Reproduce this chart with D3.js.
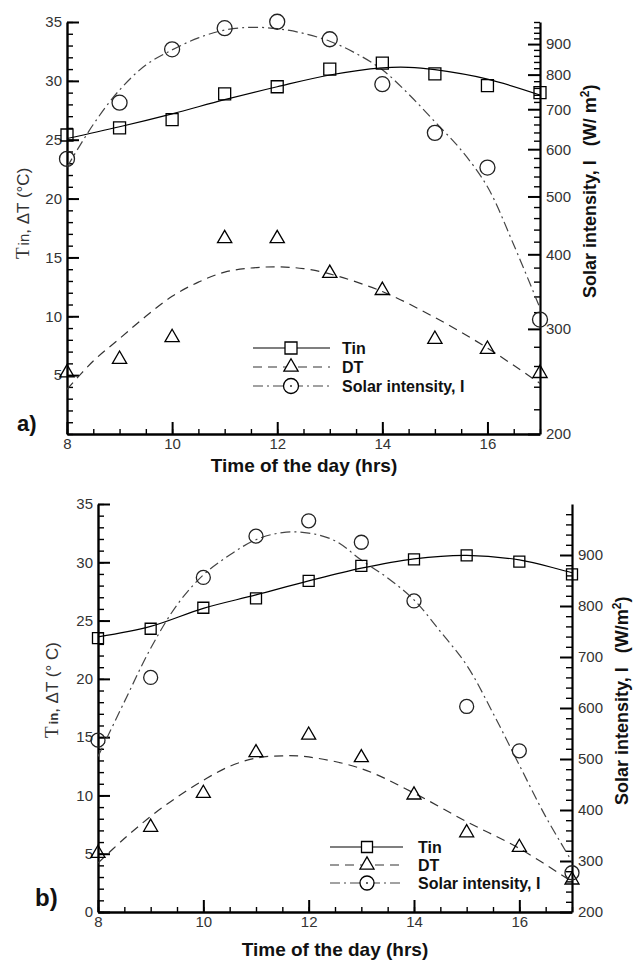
<!DOCTYPE html>
<html><head><meta charset="utf-8">
<script src="https://cdn.jsdelivr.net/npm/d3@7"></script>
<style>body{margin:0;background:#fff}svg{display:block}</style>
</head><body>
<svg id="c" width="634" height="962"></svg>
<script>
// ---------- data ----------
const hours = [8, 9, 10, 11, 12, 13, 14, 15, 16, 17];

// panel a) measured points
const tinA   = [25.4, 26.0, 26.7, 28.9, 29.5, 31.0, 31.5, 30.6, 29.6, 29.0];
const dtA    = [5.2, 6.35, 8.2, 16.6, 16.6, 13.65, 12.2, 8.05, 7.2, 5.15];
const solarA = [578, 718, 882, 957, 981, 917, 771, 639, 559, 311];
// panel a) fitted curves (read off the picture)
const tinFitHoursA = [8, 9, 10, 11, 12, 13, 14, 14.5, 15, 16, 17];
const tinFitA      = [25.1, 26.1, 27.2, 28.4, 29.5, 30.5, 31.1, 31.15, 30.95, 30.15, 28.8];
const dtFitHoursA  = [8, 8.5, 9, 9.5, 10, 10.5, 11, 11.5, 12, 12.5, 13, 14, 15, 16, 17];
const dtFitA       = [3.8, 6.2, 8.1, 10.0, 11.7, 12.9, 13.75, 14.1, 14.2, 14.05, 13.6, 12.1, 9.9, 7.3, 4.3];
const solFitHoursA = [8, 8.5, 9, 9.5, 10, 10.5, 11, 11.5, 12, 12.5, 13, 13.5, 14, 14.5, 15, 15.5, 16, 16.5, 17];
const solFitA      = [560, 660, 754, 830, 880, 922, 950, 960, 955, 938, 910, 868, 815, 742, 667, 598, 519, 415, 325];

// panel b) measured points
const tinB   = [23.5, 24.3, 26.1, 26.9, 28.4, 29.7, 30.25, 30.6, 30.05, 28.97];
const dtB    = [5.03, 7.27, 10.18, 13.67, 15.18, 13.24, 10.04, 6.8, 5.55, 2.75];
const solarB = [537, 660, 856, 937, 967, 925, 810, 603, 516, 277];
// panel b) fitted curves
const tinFitHoursB = [8, 9, 10, 11, 12, 13, 14, 15, 16, 17];
const tinFitB      = [23.6, 24.5, 26.05, 27.2, 28.4, 29.5, 30.3, 30.6, 30.2, 29.1];
const dtFitHoursB  = [8, 8.5, 9, 9.5, 10, 10.5, 11, 11.5, 12, 13, 14, 15, 16, 17];
const dtFitB       = [4.2, 6.3, 8.2, 9.85, 11.3, 12.5, 13.2, 13.4, 13.3, 12.3, 10.2, 7.75, 5.45, 2.6];
const solFitHoursB = [8, 8.5, 9, 9.5, 10, 10.5, 11, 11.5, 12, 12.5, 13, 13.5, 14, 14.5, 15, 15.5, 16, 16.5, 17];
const solFitB      = [505, 612, 717, 802, 861, 900, 930, 944, 943, 928, 890, 855, 812, 750, 684, 590, 488, 387, 299];

// ticks / labels
const xTickLabels   = [8, 10, 12, 14, 16];
const leftLabelsA   = [5, 10, 15, 20, 25, 30, 35];
const leftLabelsB   = [0, 5, 10, 15, 20, 25, 30, 35];
const rightLabels   = [200, 300, 400, 500, 600, 700, 800, 900];
const legendNames   = ["Tin", "DT", "Solar intensity, I"];
const xTitle        = "Time of the day (hrs)";
const rightTitle    = "Solar intensity, I";
const panelNames    = ["a)", "b)"];

// ---------- drawing ----------
const svg = d3.select("#c");
const SANS = "Arial, 'Liberation Sans', sans-serif";
const SERIF = "'Times New Roman', 'Liberation Serif', serif";
const LABEL = "#333";

const dashes = { tin: null, dt: "9,6", sol: "10,4,2,4" };
const lineCol = { tin: "#000", dt: "#333", sol: "#444" };

function range(a, b, s) { const r = []; for (let v = a; v <= b + 1e-9; v += s) r.push(+v.toFixed(3)); return r; }

function panel(cfg) {
  const g = svg.append("g");
  const x = d3.scaleLinear().domain([8, 17]).range([cfg.x0, cfg.x1]);
  const yL = d3.scaleLinear().domain([0, 35]).range([cfg.yb, cfg.yt]);
  const yR = cfg.log
    ? d3.scaleLog().domain([200, 980]).range([cfg.yb, cfg.yt])
    : d3.scaleLinear().domain([200, 1000]).range([cfg.yb, cfg.yt]);

  function styleAxis(sel, major) {
    sel.selectAll(".tick line").attr("stroke", "#000").attr("stroke-width", major ? 2 : 1.4);
    sel.selectAll("text").attr("font-family", SANS).attr("font-size", 15).attr("fill", LABEL);
    sel.attr("font-family", null).attr("font-size", null);
  }

  // left axis: minor then major
  const lMin = g.append("g").attr("transform", `translate(${cfg.x0},0)`)
    .call(d3.axisLeft(yL).tickValues(range(0, 35, 1)).tickSize(-6).tickFormat(""));
  lMin.select(".domain").remove(); styleAxis(lMin, false);
  const lMaj = g.append("g").attr("transform", `translate(${cfg.x0},0)`)
    .call(d3.axisLeft(yL).tickValues(cfg.leftLabels).tickSize(-12).tickSizeOuter(0).tickPadding(5));
  lMaj.select(".domain").attr("stroke", "#000").attr("stroke-width", 2.4);
  styleAxis(lMaj, true);

  // bottom axis
  const bMin = g.append("g").attr("transform", `translate(0,${cfg.yb})`)
    .call(d3.axisBottom(x).tickValues(range(8, 17, 0.5)).tickSize(-5).tickFormat(""));
  bMin.select(".domain").remove(); styleAxis(bMin, false);
  const bMaj = g.append("g").attr("transform", `translate(0,${cfg.yb})`)
    .call(d3.axisBottom(x).tickValues(xTickLabels).tickSize(-12).tickSizeOuter(0).tickPadding(4));
  bMaj.select(".domain").attr("stroke", "#000").attr("stroke-width", 2.4);
  styleAxis(bMaj, true);

  // right axis
  const minorR = range(200, cfg.log ? 980 : 1000, 20).filter(v => v % 100 !== 0);
  const rMin = g.append("g").attr("transform", `translate(${cfg.x1},0)`)
    .call(d3.axisRight(yR).tickValues(minorR).tickSize(-6).tickFormat(""));
  rMin.select(".domain").remove(); styleAxis(rMin, false);
  const rMaj = g.append("g").attr("transform", `translate(${cfg.x1},0)`)
    .call(d3.axisRight(yR).tickValues(rightLabels).tickSize(-12).tickSizeOuter(0).tickPadding(6).tickFormat(d3.format("d")));
  rMaj.select(".domain").attr("stroke", "#000").attr("stroke-width", 2.2);
  styleAxis(rMaj, true);

  // fitted curves
  const curve = d3.curveCatmullRom.alpha(0.5);
  function fit(hs, vs, yScale, key) {
    g.append("path")
      .datum(hs.map((h, i) => [h, vs[i]]))
      .attr("d", d3.line().x(d => x(d[0])).y(d => yScale(d[1])).curve(curve))
      .attr("fill", "none").attr("stroke", lineCol[key]).attr("stroke-width", 1.2)
      .attr("stroke-dasharray", dashes[key]);
  }
  fit(cfg.tinFitH, cfg.tinFit, yL, "tin");
  fit(cfg.dtFitH, cfg.dtFit, yL, "dt");
  fit(cfg.solFitH, cfg.solFit, yR, "sol");

  // markers
  const sq = d3.symbol(d3.symbolSquare, cfg.sq * cfg.sq);
  const tri = d3.symbol(d3.symbolTriangle, cfg.tri);
  const circ = d3.symbol(d3.symbolCircle, Math.PI * cfg.r * cfg.r);
  function marks(vals, yScale, sym, col) {
    g.append("g").selectAll("path").data(vals).join("path")
      .attr("transform", (d, i) => `translate(${x(hours[i])},${yScale(d)})`)
      .attr("d", sym).attr("fill", "none").attr("stroke", col).attr("stroke-width", 1.3);
  }
  marks(cfg.tin, yL, sq, "#000");
  marks(cfg.dt, yL, tri, "#000");
  marks(cfg.sol, yR, circ, "#222");

  // legend
  const lg = g.append("g");
  const syms = [sq, tri, circ];
  const keys = ["tin", "dt", "sol"];
  legendNames.forEach((name, i) => {
    const yy = cfg.legY[i];
    lg.append("line").attr("x1", cfg.legX0).attr("x2", cfg.legX1).attr("y1", yy).attr("y2", yy)
      .attr("stroke", lineCol[keys[i]]).attr("stroke-width", 1.2).attr("stroke-dasharray", dashes[keys[i]]);
    lg.append("path").attr("transform", `translate(${cfg.legM},${yy})`).attr("d", syms[i])
      .attr("fill", "#fff").attr("stroke", "#000").attr("stroke-width", 1.3);
    if (i === 2) lg.append("circle").attr("cx", cfg.legM).attr("cy", yy).attr("r", 1).attr("fill", "#333");
    lg.append("text").attr("x", cfg.legT).attr("y", yy + 5.5).attr("font-family", SANS)
      .attr("font-weight", "bold").attr("font-size", 16).attr("fill", "#111").text(name);
  });

  // x title
  g.append("text").attr("x", cfg.xtX).attr("y", cfg.xtY).attr("text-anchor", "middle")
    .attr("font-family", SANS).attr("font-weight", "bold").attr("font-size", 19).attr("fill", "#111").text(xTitle);

  // right title (start at bottom, reading upward)
  const rt = g.append("text").attr("transform", `translate(${cfg.rtX},${cfg.rtY}) rotate(-90)`)
    .attr("font-family", SANS).attr("font-weight", "bold").attr("font-size", 18).attr("fill", "#111");
  rt.append("tspan").text(rightTitle);
  rt.append("tspan").attr("dx", 14).text(cfg.unitA);
  rt.append("tspan").attr("dy", -7).attr("font-size", 12).text("2");
  rt.append("tspan").attr("dy", 7).text(")");

  // left title: start anchored at measured bottom end
  const lt = g.append("text").attr("fill", "#333");
  lt.append("tspan").attr("font-family", SERIF).attr("font-size", 19).text("T");
  lt.append("tspan").attr("font-family", SANS).attr("font-size", cfg.inSize).attr("font-weight", cfg.inBold)
    .attr("dx", 2).text("in");
  lt.append("tspan").attr("font-family", SANS).attr("font-size", 17).text(", ΔT (" + cfg.degC + ")");
  lt.attr("transform", `translate(${cfg.ltX},${cfg.ltBottom}) rotate(-90)`);

  // panel label
  g.append("text").attr("x", cfg.pX).attr("y", cfg.pY).attr("font-family", SANS).attr("font-weight", "bold")
    .attr("font-size", cfg.pSize).attr("fill", "#111").text(cfg.pName);
}

panel({
  x0: 67, x1: 540, yt: 22, yb: 434, log: true,
  leftLabels: leftLabelsA,
  tin: tinA, dt: dtA, sol: solarA,
  tinFitH: tinFitHoursA, tinFit: tinFitA, dtFitH: dtFitHoursA, dtFit: dtFitA, solFitH: solFitHoursA, solFit: solFitA,
  sq: 12, tri: 88, r: 7.5,
  legY: [348, 367, 386], legX0: 253, legX1: 330, legM: 291, legT: 342,
  xtX: 304, xtY: 472,
  rtX: 596, rtY: 298, unitA: "(W/ m",
  ltX: 29, ltBottom: 259, inSize: 15, inBold: "normal", degC: "°C",
  pX: 17, pY: 431, pSize: 22, pName: panelNames[0]
});

panel({
  x0: 98, x1: 572, yt: 504, yb: 912, log: false,
  leftLabels: leftLabelsB,
  tin: tinB, dt: dtB, sol: solarB,
  tinFitH: tinFitHoursB, tinFit: tinFitB, dtFitH: dtFitHoursB, dtFit: dtFitB, solFitH: solFitHoursB, solFit: solFitB,
  sq: 11, tri: 85, r: 7,
  legY: [847, 865, 883], legX0: 330, legX1: 403, legM: 367, legT: 418,
  xtX: 335, xtY: 956,
  rtX: 628, rtY: 805, unitA: "(W/m",
  ltX: 58, ltBottom: 738, inSize: 13, inBold: "bold", degC: "° C",
  pX: 35, pY: 906, pSize: 24, pName: panelNames[1]
});
</script>
</body></html>
